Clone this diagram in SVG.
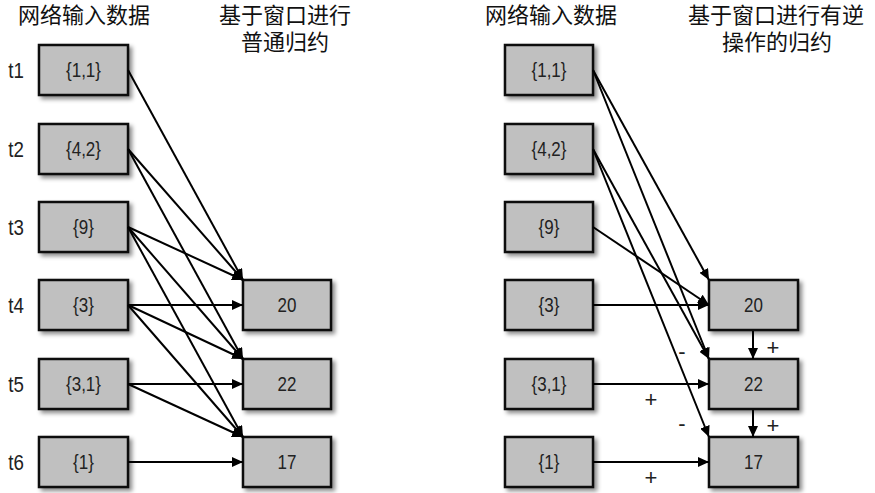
<svg xmlns="http://www.w3.org/2000/svg" width="875" height="493" viewBox="0 0 875 493">
<style>
.box{fill:#c0c0c0;stroke:#111;stroke-width:2.5;filter:url(#sh)}
.val{font-family:"Liberation Sans",Arial,sans-serif;font-size:20px;fill:#222;text-anchor:middle}
.tl{font-family:"Liberation Sans",Arial,sans-serif;font-size:22px;fill:#222;text-anchor:middle}
.hd{font-family:"Liberation Sans","Noto Sans CJK SC",sans-serif;font-size:22px;fill:#111;text-anchor:middle}
.op{font-family:"Liberation Sans",Arial,sans-serif;font-size:22px;fill:#222;text-anchor:middle}
.c line{stroke:#000;stroke-width:2;marker-end:url(#ah)}
</style>
<defs>
<filter id="sh" x="-20%" y="-20%" width="150%" height="160%">
<feDropShadow dx="3" dy="3" stdDeviation="2" flood-color="#000" flood-opacity="0.45"/>
</filter>
<marker id="ah" markerUnits="userSpaceOnUse" markerWidth="12" markerHeight="10" refX="11" refY="5" orient="auto">
<path d="M0,0 L11,5 L0,10 z" fill="#000"/>
</marker>
</defs>
<rect width="875" height="493" fill="#fff"/>
<g id="headers">
<text class="hd" x="84" y="23">网络输入数据</text>
<text class="hd" x="285" y="23">基于窗口进行</text>
<text class="hd" x="285" y="50">普通归约</text>
<text class="hd" x="551" y="23">网络输入数据</text>
<text class="hd" x="776" y="23">基于窗口进行有逆</text>
<text class="hd" x="777" y="50">操作的归约</text>
</g>
<g id="time-labels">
<text class="tl" transform="translate(16,78) scale(0.85,1)">t1</text>
<text class="tl" transform="translate(16,157) scale(0.85,1)">t2</text>
<text class="tl" transform="translate(16,235) scale(0.85,1)">t3</text>
<text class="tl" transform="translate(16,313) scale(0.85,1)">t4</text>
<text class="tl" transform="translate(16,392) scale(0.85,1)">t5</text>
<text class="tl" transform="translate(16,470) scale(0.85,1)">t6</text>
</g>
<g id="L-in1"><rect class="box" x="39" y="45" width="89" height="50"/><text class="val" transform="translate(83.5,77) scale(0.85,1)">{1,1}</text></g>
<g id="L-in2"><rect class="box" x="39" y="124" width="89" height="50"/><text class="val" transform="translate(83.5,156) scale(0.85,1)">{4,2}</text></g>
<g id="L-in3"><rect class="box" x="39" y="202" width="89" height="50"/><text class="val" transform="translate(83.5,234) scale(0.85,1)">{9}</text></g>
<g id="L-in4"><rect class="box" x="39" y="280" width="89" height="50"/><text class="val" transform="translate(83.5,312) scale(0.85,1)">{3}</text></g>
<g id="L-in5"><rect class="box" x="39" y="359" width="89" height="50"/><text class="val" transform="translate(83.5,391) scale(0.85,1)">{3,1}</text></g>
<g id="L-in6"><rect class="box" x="39" y="437" width="89" height="50"/><text class="val" transform="translate(83.5,469) scale(0.85,1)">{1}</text></g>
<g id="L-out20"><rect class="box" x="243" y="280" width="88" height="50"/><text class="val" transform="translate(287,312) scale(0.85,1)">20</text></g>
<g id="L-out22"><rect class="box" x="243" y="359" width="88" height="50"/><text class="val" transform="translate(287,391) scale(0.85,1)">22</text></g>
<g id="L-out17"><rect class="box" x="243" y="437" width="88" height="50"/><text class="val" transform="translate(287,469) scale(0.85,1)">17</text></g>
<g id="R-in1"><rect class="box" x="505" y="45" width="88" height="50"/><text class="val" transform="translate(549,77) scale(0.85,1)">{1,1}</text></g>
<g id="R-in2"><rect class="box" x="505" y="124" width="88" height="50"/><text class="val" transform="translate(549,156) scale(0.85,1)">{4,2}</text></g>
<g id="R-in3"><rect class="box" x="505" y="202" width="88" height="50"/><text class="val" transform="translate(549,234) scale(0.85,1)">{9}</text></g>
<g id="R-in4"><rect class="box" x="505" y="280" width="88" height="50"/><text class="val" transform="translate(549,312) scale(0.85,1)">{3}</text></g>
<g id="R-in5"><rect class="box" x="505" y="359" width="88" height="50"/><text class="val" transform="translate(549,391) scale(0.85,1)">{3,1}</text></g>
<g id="R-in6"><rect class="box" x="505" y="437" width="88" height="50"/><text class="val" transform="translate(549,469) scale(0.85,1)">{1}</text></g>
<g id="R-out20"><rect class="box" x="709" y="280" width="89" height="50"/><text class="val" transform="translate(753.5,312) scale(0.85,1)">20</text></g>
<g id="R-out22"><rect class="box" x="709" y="359" width="89" height="50"/><text class="val" transform="translate(753.5,391) scale(0.85,1)">22</text></g>
<g id="R-out17"><rect class="box" x="709" y="437" width="89" height="50"/><text class="val" transform="translate(753.5,469) scale(0.85,1)">17</text></g>
<g id="connectors" class="c">
<line x1="128" y1="70" x2="243" y2="280"/>
<line x1="128" y1="149" x2="243" y2="280"/>
<line x1="128" y1="149" x2="243" y2="359"/>
<line x1="128" y1="227" x2="243" y2="280"/>
<line x1="128" y1="227" x2="243" y2="359"/>
<line x1="128" y1="227" x2="243" y2="437"/>
<line x1="128" y1="305" x2="243" y2="305"/>
<line x1="128" y1="305" x2="243" y2="359"/>
<line x1="128" y1="305" x2="243" y2="437"/>
<line x1="128" y1="384" x2="243" y2="384"/>
<line x1="128" y1="384" x2="243" y2="437"/>
<line x1="128" y1="462" x2="243" y2="462"/>
<line x1="593" y1="70" x2="709" y2="280"/>
<line x1="593" y1="70" x2="709" y2="359"/>
<line x1="593" y1="149" x2="709" y2="359"/>
<line x1="593" y1="149" x2="709" y2="437"/>
<line x1="593" y1="227" x2="709" y2="305"/>
<line x1="593" y1="305" x2="709" y2="305"/>
<line x1="593" y1="384" x2="709" y2="384"/>
<line x1="593" y1="462" x2="709" y2="462"/>
<line x1="753" y1="331" x2="753" y2="359"/>
<line x1="753" y1="410" x2="753" y2="437"/>
</g>
<g id="op-labels">
<text class="op" x="682" y="359">-</text>
<text class="op" x="651" y="407">+</text>
<text class="op" x="682" y="431">-</text>
<text class="op" x="651" y="485">+</text>
<text class="op" x="773" y="355">+</text>
<text class="op" x="773" y="433">+</text>
</g>
</svg>
